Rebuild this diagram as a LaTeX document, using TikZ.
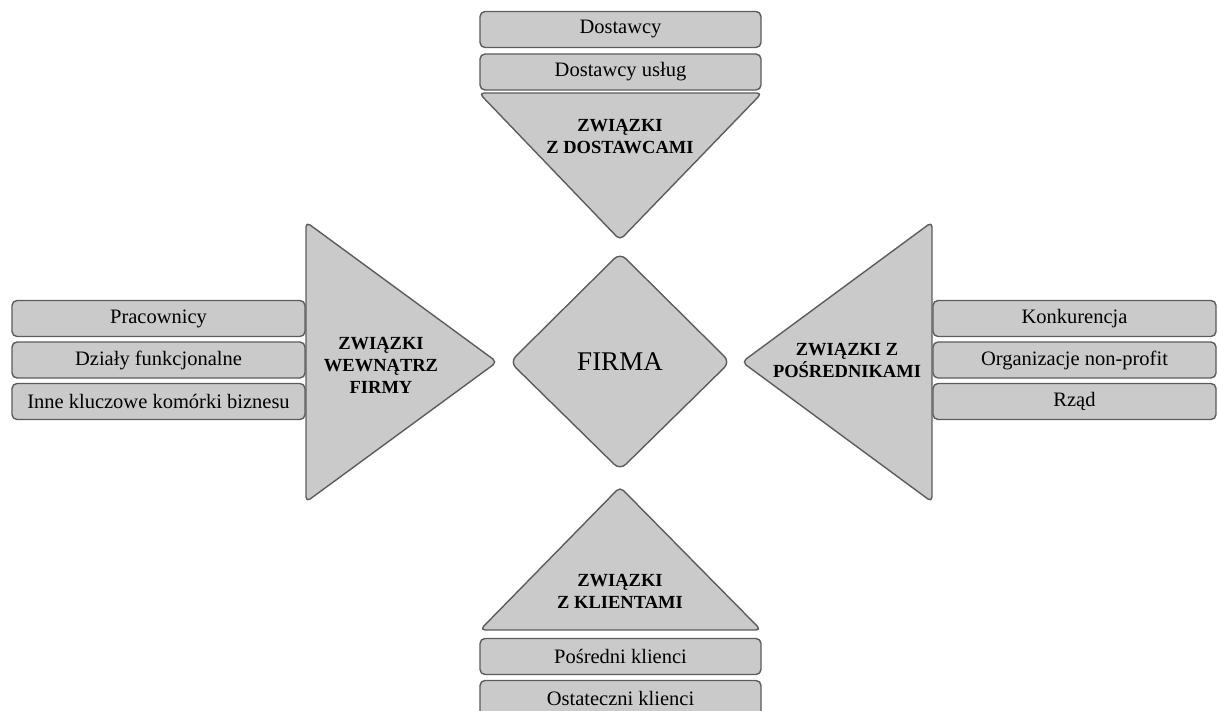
\documentclass[tikz,border=0pt]{standalone}
\usepackage{fontspec}
\setmainfont{Liberation Serif}
\definecolor{shapegray}{RGB}{202,202,202}
\definecolor{edgegray}{RGB}{92,92,92}
\tikzset{
  shapefill/.style={fill=shapegray, draw=edgegray, line width=1.4pt, rounded corners=5pt, line join=round},
  itembox/.style={shapefill, rectangle, inner sep=0pt, minimum height=36pt,
    font=\fontsize{20.5}{24}\selectfont},
  heading/.style={align=center, inner sep=0pt, font=\bfseries\fontsize{18.5}{22}\selectfont},
}
\begin{document}
\begin{tikzpicture}[x=1pt,y=-1pt]
\useasboundingbox (0,0) rectangle (1218,711);

% top: suppliers
\node[itembox, minimum width=281pt] (dost)  at (620.5,29.5) {Dostawcy};
\node[itembox, minimum width=281pt] (dostu) at (620.5,72)   {Dostawcy usług};
\draw[shapefill] (479,93) -- (762,93) -- (620,240) -- cycle;
\node[heading] (zdost) at (620,137) {ZWIĄZKI\\Z DOSTAWCAMI};

% left: inside the company
\node[itembox, minimum width=293pt] (prac)  at (158.5,318.5) {Pracownicy};
\node[itembox, minimum width=293pt] (dzial) at (158.5,360)   {Działy funkcjonalne};
\node[itembox, minimum width=293pt] (inne)  at (158.5,401.5) {Inne kluczowe komórki biznesu};
\draw[shapefill] (306,222) -- (497,362) -- (306,502) -- cycle;
\node[heading] (zwew) at (381,365) {ZWIĄZKI\\WEWNĄTRZ\\FIRMY};

% right: intermediaries
\node[itembox, minimum width=283pt] (konk) at (1074.5,318.5) {Konkurencja};
\node[itembox, minimum width=283pt] (org)  at (1074.5,360)   {Organizacje non-profit};
\node[itembox, minimum width=283pt] (rzad) at (1074.5,401.5) {Rząd};
\draw[shapefill] (932,222) -- (742,362) -- (932,502) -- cycle;
\node[heading] (zpos) at (847,360) {ZWIĄZKI Z\\POŚREDNIKAMI};

% bottom: customers
\node[itembox, minimum width=281pt] (posr) at (620.5,656.5) {Pośredni klienci};
\node[itembox, minimum width=281pt] (ost)  at (620.5,698.5) {Ostateczni klienci};
\draw[shapefill] (620,487) -- (761,630) -- (480,630) -- cycle;
\node[heading] (zkl) at (620,591) {ZWIĄZKI\\Z KLIENTAMI};

% centre: the company
\draw[shapefill, rounded corners=8pt] (620,253) -- (730,362) -- (620,470) -- (510,362) -- cycle;
\node[inner sep=0pt, font=\fontsize{27}{30}\selectfont] (firma) at (620,362) {FIRMA};
\end{tikzpicture}
\end{document}
